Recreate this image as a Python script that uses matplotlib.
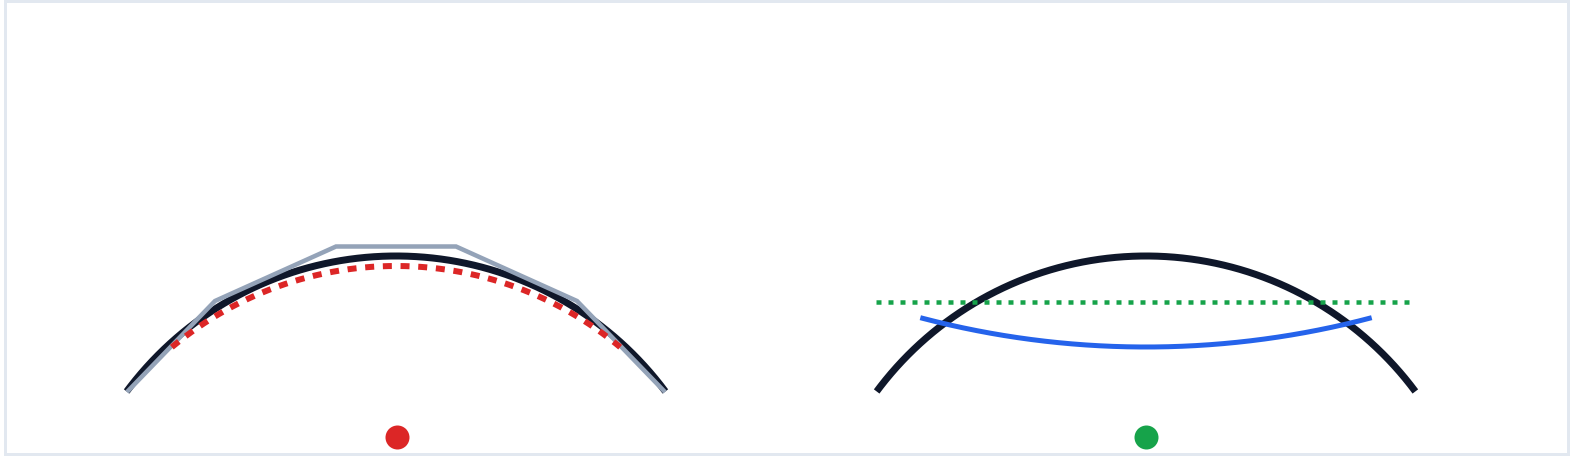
import numpy as np
import matplotlib
matplotlib.use("Agg")
import matplotlib.pyplot as plt
from matplotlib.patches import Rectangle

plt.rcParams['lines.scale_dashes'] = False

W, H = 1572, 456
PX = 72 / 100  # points per pixel at dpi=100

# ---- geometry (pixel units, y grows downward) ----
panel_cx = [396, 1146]

# main (black) arc, same in both panels
main_cy = 591.5
main_r = 335.5
main_deg = [36.6, 143.4]

# left panel: polyline approximation (offsets from panel centre)
poly_dx = [-269, -181, -60, 60, 181, 269]
poly_y = [392, 301, 246.5, 246.5, 301, 392]

# left panel: red dotted arc
red_cy = 616.2
red_r = 350.2
red_deg = [50.2, 129.8]

# right panel: blue sagging arc (centre above)
blue_cy = -536.5
blue_r = 883.5
blue_deg = [75.2, 104.8]

# right panel: green dotted chord
green_y = 302
green_x = [876, 1410]

# dots under each panel
dot_x = [396.5, 1146]
dot_y = [437.3, 437.3]
dot_colors = ['#dc2626', '#16a34a']

fig = plt.figure(figsize=(W / 100 + 1e-4, H / 100 + 1e-4), dpi=100)
ax = fig.add_axes([0, 0, 1, 1])
ax.set_xlim(0, W)
ax.set_ylim(H, 0)
ax.axis('off')

# frame
ax.add_patch(Rectangle((4.5, 1.5), 1563, 453, fill=False,
                       edgecolor='#e2e8f0', lw=3 * PX))

def up_arc(cx, cy, r, deg):
    t = np.radians(np.linspace(deg[0], deg[1], 300))
    return cx + r * np.cos(t), cy - r * np.sin(t)

def down_arc(cx, cy, r, deg):
    t = np.radians(np.linspace(deg[0], deg[1], 300))
    return cx + r * np.cos(t), cy + r * np.sin(t)

# black arcs
for cx in panel_cx:
    x, y = up_arc(cx, main_cy, main_r, main_deg)
    ax.plot(x, y, color='#0f172a', lw=7 * PX, solid_capstyle='butt', zorder=2)

# left: gray polyline
ax.plot([panel_cx[0] + d for d in poly_dx], poly_y, color='#94a3b8',
        lw=4.5 * PX, solid_capstyle='butt', solid_joinstyle='miter', zorder=3)

# left: red dotted arc
x, y = up_arc(panel_cx[0], red_cy, red_r, red_deg)
ax.plot(x[::-1], y[::-1], color='#dc2626', lw=6 * PX,
        dashes=(9 * PX, 8.7 * PX), zorder=4)

# right: blue arc
x, y = down_arc(panel_cx[1], blue_cy, blue_r, blue_deg)
ax.plot(x, y, color='#2563eb', lw=5 * PX, solid_capstyle='butt', zorder=3)

# right: green dotted line
ax.plot(green_x, [green_y, green_y], color='#16a34a', lw=4.5 * PX,
        dashes=(5 * PX, 7 * PX), zorder=4)

# dots
for x0, y0, c in zip(dot_x, dot_y, dot_colors):
    ax.plot([x0], [y0], marker='o', ms=24 * PX, color=c, mec='none', zorder=5)

fig.savefig('out.png', dpi=100)
